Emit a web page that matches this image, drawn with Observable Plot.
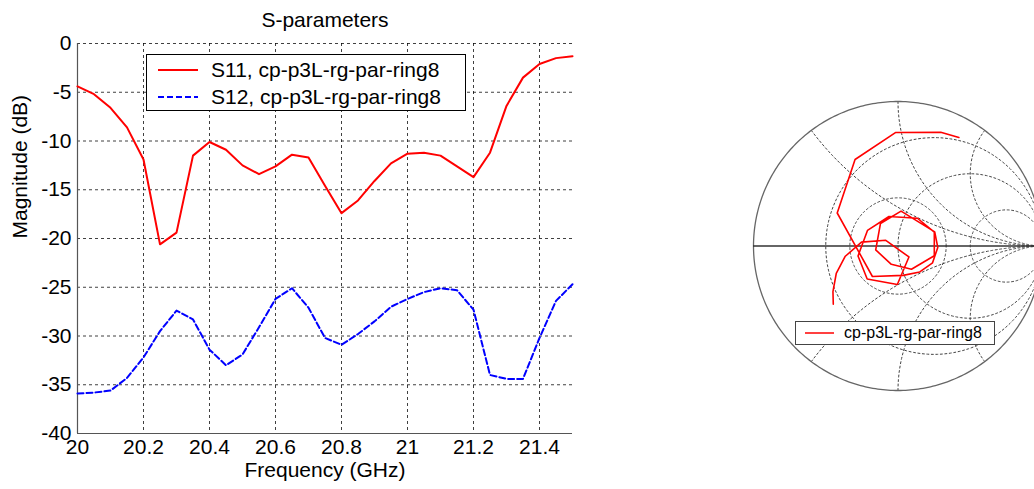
<!DOCTYPE html>
<html><head><meta charset="utf-8">
<script src="https://cdn.jsdelivr.net/npm/d3@7"></script>
<script src="https://cdn.jsdelivr.net/npm/@observablehq/plot@0.6"></script>
<style>
body{margin:0;width:1034px;height:489px;overflow:hidden;background:#fff;position:relative;font-family:"Liberation Sans",Arial,sans-serif}
#left{position:absolute;left:0;top:0;width:600px}
#smith{position:absolute;left:747px;top:95px;width:301px;height:301px}
#left svg,#smith svg{max-width:none !important}
.lg{position:absolute;background:#fff;border:1px solid #000;box-sizing:border-box}
.lg .row{position:absolute;left:0;display:flex;align-items:center;white-space:nowrap;color:#000}
</style></head><body>
<div id="left"></div>
<div id="smith"></div>
<div class="lg" id="lg1" style="left:146px;top:54px;width:320px;height:57px;font-size:21px">
  <div class="row" style="top:2px;height:26px"><svg width="64" height="10"><line x1="11" x2="51" y1="5" y2="5" stroke="#ff0000" stroke-width="2"/></svg><span>S11, cp-p3L-rg-par-ring8</span></div>
  <div class="row" style="top:29px;height:26px"><svg width="64" height="10"><line x1="11" x2="51" y1="5" y2="5" stroke="#0000ff" stroke-width="2" stroke-dasharray="6,3"/></svg><span>S12, cp-p3L-rg-par-ring8</span></div>
</div>
<div class="lg" id="lg2" style="left:795px;top:321px;width:200px;height:24px;font-size:16px;border-color:#444">
  <div class="row" style="top:0;height:22px"><svg width="48" height="10"><line x1="9" x2="38" y1="5" y2="5" stroke="#ff0000" stroke-width="1.5"/></svg><span>cp-p3L-rg-par-ring8</span></div>
</div>
<script>
const freq = [20.00,20.05,20.10,20.15,20.20,20.25,20.30,20.35,20.40,20.45,20.50,20.55,20.60,20.65,20.70,20.75,20.80,20.85,20.90,20.95,21.00,21.05,21.10,21.15,21.20,21.25,21.30,21.35,21.40,21.45,21.50];
const s11 = [-4.4,-5.2,-6.6,-8.6,-11.9,-20.6,-19.4,-11.5,-10.1,-10.9,-12.5,-13.4,-12.6,-11.4,-11.7,-14.6,-17.4,-16.1,-14.1,-12.3,-11.3,-11.2,-11.5,-12.6,-13.7,-11.2,-6.4,-3.5,-2.1,-1.5,-1.3];
const s12 = [-35.9,-35.8,-35.6,-34.3,-32.2,-29.5,-27.4,-28.3,-31.4,-33.0,-31.9,-29.1,-26.2,-25.1,-27.1,-30.2,-30.9,-29.8,-28.5,-27.0,-26.2,-25.5,-25.1,-25.3,-27.3,-34.0,-34.4,-34.4,-30.2,-26.4,-24.7];
// S11 phase (degrees)
const s11Phase = [-138,-145,-156,-169,174,155,-45,-91,-133,-166,153,107,55,21,-15,-60,-110,-170,128,85,21,-2,-26,-50,-80,-130,151.5,116.4,91.3,69.4,60.7];
const xTicks = [20,20.2,20.4,20.6,20.8,21,21.2,21.4];
const yTicks = [0,-5,-10,-15,-20,-25,-30,-35,-40];
const rGrid = [1/3,1,3];
const xGrid = [0.5,1,2,-0.5,-1,-2];
const gammaGrid = [1/3];

const FONT = '"Liberation Sans",Arial,sans-serif';
const rows = [];
freq.forEach((f,i)=>{rows.push({f,v:s11[i],s:"S11"});rows.push({f,v:s12[i],s:"S12"});});

const left = Plot.plot({
  width: 600, height: 489,
  marginLeft: 77, marginRight: 28, marginTop: 43, marginBottom: 56,
  style: {fontFamily: FONT, fontSize: "21px", color: "#000", background: "transparent"},
  x: {domain: [20, 21.5]},
  y: {domain: [-40, 0]},
  marks: [
    Plot.gridX(xTicks, {stroke: "#000", strokeOpacity: 0.75, strokeDasharray: "3,3"}),
    Plot.gridY(yTicks, {stroke: "#000", strokeOpacity: 0.75, strokeDasharray: "3,3"}),
    Plot.axisX(xTicks, {tickSize: 0, tickPadding: 6, tickFormat: d => String(+d.toFixed(1)), label: null, fontSize: 21}),
    Plot.axisY(yTicks, {tickSize: 0, tickPadding: 6, tickFormat: d => String(d), label: null, fontSize: 21}),
    Plot.ruleX([20], {stroke: "#555", strokeWidth: 1.2}),
    Plot.ruleY([-40], {stroke: "#555", strokeWidth: 1.2}),
    Plot.line(rows.filter(d=>d.s==="S12"), {x: "f", y: "v", stroke: "#0000ff", strokeWidth: 2, strokeDasharray: "6,3"}),
    Plot.line(rows.filter(d=>d.s==="S11"), {x: "f", y: "v", stroke: "#ff0000", strokeWidth: 2}),
    Plot.text(["S-parameters"], {frameAnchor: "top", dy: -31, fontSize: 21, fill: "#000"}),
    Plot.text(["Frequency (GHz)"], {frameAnchor: "bottom", dy: 43, fontSize: 21, fill: "#000"}),
    Plot.text(["Magnitude (dB)"], {frameAnchor: "left", dx: -57, rotate: -90, fontSize: 21, fill: "#000"})
  ]
});
document.getElementById("left").appendChild(left);

// Smith chart grid geometry
function gam(r, x){ const d=(r+1)*(r+1)+x*x; return [(r*r+x*x-1)/d, 2*x/d]; }
const grid = [];
let gid = 0;
const sweep = [];
for (let k=-400;k<=400;k++) sweep.push(Math.sinh(k/40));
rGrid.forEach(r=>{ gid++; sweep.forEach(x=>{const g=gam(r,x); grid.push({id:gid,x:g[0],y:g[1]});}); });
const rs = []; for (let k=0;k<=400;k++) rs.push(Math.expm1(k/40));
xGrid.forEach(x=>{ gid++; rs.forEach(r=>{const g=gam(r,x); grid.push({id:gid,x:g[0],y:g[1]});}); });
gammaGrid.forEach(m=>{ gid++; for(let k=0;k<=360;k++){const t=k*Math.PI/180; grid.push({id:gid,x:m*Math.cos(t),y:m*Math.sin(t)});} });
const outer = []; for(let k=0;k<=360;k++){const t=k*Math.PI/180; outer.push({x:Math.cos(t),y:Math.sin(t)});}

const traj = freq.map((f,i)=>{const m=Math.pow(10,s11[i]/20), t=s11Phase[i]*Math.PI/180; return {f, x:m*Math.cos(t), y:m*Math.sin(t)};});

const smith = Plot.plot({
  width: 301, height: 301, margin: 6,
  x: {domain: [-1,1], axis: null},
  y: {domain: [-1,1], axis: null},
  style: {background: "transparent", overflow: "visible", maxWidth: "none"},
  marks: [
    Plot.line(grid, {x:"x", y:"y", z:"id", stroke:"#444", strokeWidth:1, strokeDasharray:"2,2.5"}),
    Plot.line(outer, {x:"x", y:"y", stroke:"#666", strokeWidth:1.3}),
    Plot.ruleY([0], {stroke:"#333", strokeWidth:1.5}),
    Plot.line(traj, {x:"x", y:"y", stroke:"#ff0000", strokeWidth:1.6})
  ]
});
document.getElementById("smith").appendChild(smith);
</script>
</body></html>
